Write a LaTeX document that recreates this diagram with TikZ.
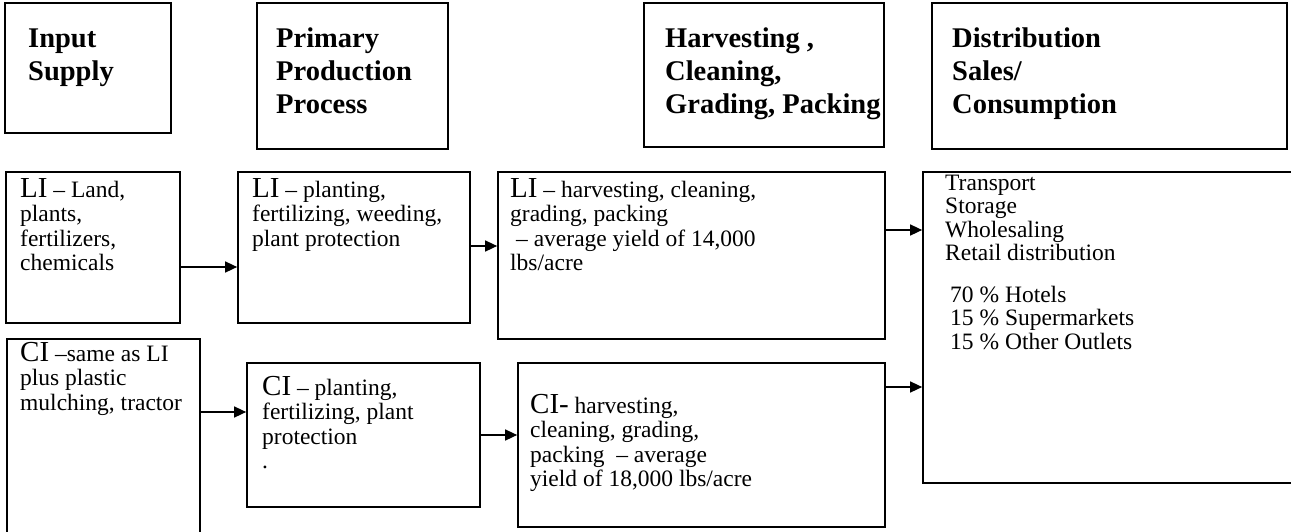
\documentclass[tikz,border=0pt]{standalone}
\usepackage{fontspec}
\setmainfont{Liberation Serif}
\usetikzlibrary{arrows.meta,fit}
% larger prefix letters (LI / CI) inside the body text
\newcommand\pfx[1]{{\fontsize{29}{24.5}\selectfont #1}}
\begin{document}
\begin{tikzpicture}[x=1pt,y=-1pt,
  box/.style={draw=black, line width=1.7pt, inner sep=0pt},
  head/.style={anchor=base west, inner sep=0pt, font=\fontsize{28.5}{33}\selectfont\bfseries},
  body/.style={anchor=base west, inner sep=0pt, font=\fontsize{23.5}{24.5}\selectfont},
  flow/.style={line width=1.5pt, -{Triangle[length=12pt,width=11pt]}}
]
\useasboundingbox (0,0) rectangle (1291,531);

% column headings
\node[box, fit={(5,3)(171,133)}]   (h1) {};
\node[box, fit={(257,3)(448,149)}] (h2) {};
\node[box, fit={(644,3)(884,147)}] (h3) {};
\node[box, fit={(932,3)(1287,149)}] (h4) {};
\node[head] (th1) at (28,47)  {\begin{tabular}[t]{@{}l@{}}Input\\Supply\end{tabular}};
\node[head] (th2) at (276,47) {\begin{tabular}[t]{@{}l@{}}Primary\\Production\\Process\end{tabular}};
\node[head] (th3) at (665,47) {\begin{tabular}[t]{@{}l@{}}Harvesting ,\\Cleaning,\\Grading, Packing\end{tabular}};
\node[head] (th4) at (952,47) {\begin{tabular}[t]{@{}l@{}}Distribution\\Sales/\\Consumption\end{tabular}};

% LI row
\node[box, fit={(6,172)(180,323)}]   (li1) {};
\node[box, fit={(238,172)(470,323)}] (li2) {};
\node[box, fit={(498,172)(885,339)}] (li3) {};
\node[body] (tli1) at (20,197)  {\begin{tabular}[t]{@{}l@{}}\pfx{LI} -- Land,\\plants,\\fertilizers,\\chemicals\end{tabular}};
\node[body] (tli2) at (252,197) {\begin{tabular}[t]{@{}l@{}}\pfx{LI} -- planting,\\fertilizing, weeding,\\plant protection\end{tabular}};
\node[body] (tli3) at (510,197) {\begin{tabular}[t]{@{}l@{}}\pfx{LI} -- harvesting, cleaning,\\grading, packing\\\hspace{6pt}-- average yield of 14,000\\lbs/acre\end{tabular}};

% distribution
\node[box, fit={(923,172)(1298,483)}] (dist) {};
\node[body, font=\fontsize{23.5}{23.5}\selectfont] (tdist) at (945,190)
  {\begin{tabular}[t]{@{}l@{}}Transport\\Storage\\Wholesaling\\Retail distribution\\[18pt]\hspace{5pt}70 \% Hotels\\\hspace{5pt}15 \% Supermarkets\\\hspace{5pt}15 \% Other Outlets\end{tabular}};

% CI row
\node[box, fit={(7,339)(200,545)}]   (ci1) {};
\node[box, fit={(247,363)(480,507)}] (ci2) {};
\node[box, fit={(518,363)(885,527)}] (ci3) {};
\node[body] (tci1) at (20,361)  {\begin{tabular}[t]{@{}l@{}}\pfx{CI} --same as LI\\plus plastic\\mulching, tractor\end{tabular}};
\node[body] (tci2) at (262,395) {\begin{tabular}[t]{@{}l@{}}\pfx{CI} -- planting,\\fertilizing, plant\\protection\\.\end{tabular}};
\node[body] (tci3) at (530,413) {\begin{tabular}[t]{@{}l@{}}\pfx{CI-} harvesting,\\cleaning, grading,\\packing\ \ -- average\\yield of 18,000 lbs/acre\end{tabular}};

% connector heights
\coordinate (ya) at (0,267);
\coordinate (yb) at (0,246);
\coordinate (yc) at (0,230);
\coordinate (yd) at (0,412);
\coordinate (ye) at (0,435);
\coordinate (yf) at (0,387);

\draw[flow] (li1.east |- ya) -- (li2.west |- ya);
\draw[flow] (li2.east |- yb) -- (li3.west |- yb);
\draw[flow] (li3.east |- yc) -- (dist.west |- yc);
\draw[flow] (ci1.east |- yd) -- (ci2.west |- yd);
\draw[flow] (ci2.east |- ye) -- (ci3.west |- ye);
\draw[flow] (ci3.east |- yf) -- (dist.west |- yf);
\end{tikzpicture}
\end{document}
